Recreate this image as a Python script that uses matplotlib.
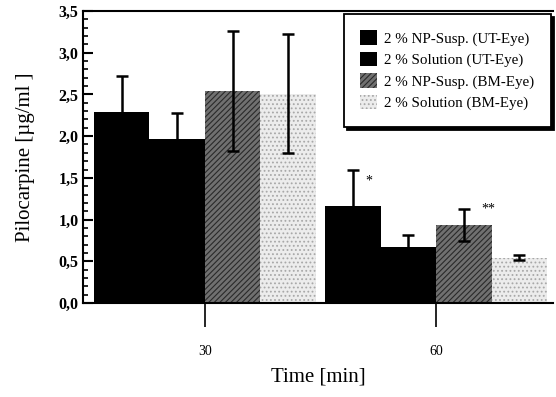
import matplotlib
matplotlib.use("Agg")
import matplotlib.pyplot as plt
import numpy as np

plt.rcParams['font.family'] = ['Liberation Serif', 'DejaVu Serif']
plt.rcParams['hatch.linewidth'] = 0.8

times = [30, 60]
series = ["2 % NP-Susp. (UT-Eye)", "2 % Solution (UT-Eye)",
          "2 % NP-Susp. (BM-Eye)", "2 % Solution (BM-Eye)"]
np_ut = [2.29, 1.16]
sol_ut = [1.97, 0.67]
np_bm = [2.54, 0.935]
sol_bm = [2.51, 0.545]
np_ut_err = [0.43, 0.435]
sol_ut_err = [0.31, 0.14]
np_bm_err = [0.72, 0.19]
sol_bm_err = [0.71, 0.035]
yticks = [0.0, 0.5, 1.0, 1.5, 2.0, 2.5, 3.0, 3.5]
ytick_labels = ["0,0", "0,5", "1,0", "1,5", "2,0", "2,5", "3,0", "3,5"]

values = [np_ut, sol_ut, np_bm, sol_bm]
errors = [np_ut_err, sol_ut_err, np_bm_err, sol_bm_err]
faces = ['black', 'black', '#707070', '#ececec']
hatch_cols = ['black', 'black', '#2a2a2a', '#a8a8a8']
hatches = [None, None, '//////', '....']

fig = plt.figure(figsize=(5.56, 3.97), dpi=100)
ax = fig.add_axes([0.149, 0.2368, 0.846, 0.7355])

w = 7.2
x = np.array(times, dtype=float)
offsets = [-1.5 * w, -0.5 * w, 0.5 * w, 1.5 * w]
for i in range(4):
    ax.bar(x + offsets[i], values[i], width=w, color=faces[i],
           edgecolor=hatch_cols[i], linewidth=0, hatch=hatches[i],
           label=series[i], zorder=2)
for i in range(4):
    ax.errorbar(x + offsets[i], values[i], yerr=errors[i], fmt='none',
                ecolor='black', elinewidth=1.8, capsize=4, capthick=1.8, zorder=3)

# significance marks
ax.text(x[1] + offsets[0] + 0.28 * w, 1.46, "*", fontsize=10, ha='center', va='center')
ax.text(x[1] + offsets[2] + 0.45 * w, 1.13, "**", fontsize=10, ha='center', va='center')

ax.set_xlim(14.16, 75.2)
ax.set_ylim(0, 3.5)
ax.set_xticks(times)
ax.set_xticklabels([str(t) for t in times], fontsize=10)
ax.set_yticks(yticks)
ax.set_yticklabels(ytick_labels, fontsize=11.5, fontweight='bold')
ax.set_yticks(np.arange(0, 3.51, 0.1), minor=True)
ax.tick_params(axis='y', which='major', direction='in', length=7, width=1.5, pad=3)
ax.tick_params(axis='y', which='minor', direction='in', length=3.5, width=1.2)
ax.tick_params(axis='x', which='major', direction='out', length=17, width=1.2, pad=13)
ax.spines['right'].set_visible(False)
for s in ['left', 'top', 'bottom']:
    ax.spines[s].set_linewidth(1.5)

ax.set_ylabel("Pilocarpine [µg/ml ]", fontsize=15, labelpad=17)
ax.set_xlabel("Time [min]", fontsize=15, labelpad=7)

leg = ax.legend(loc='upper right', bbox_to_anchor=(0.995, 0.99), borderaxespad=0,
                fontsize=10.8, frameon=True, fancybox=False,
                shadow={'color': 'black', 'alpha': 1, 'ox': 2, 'oy': -2},
                handlelength=1.1, handleheight=1.1, handletextpad=0.5,
                labelspacing=0.4, borderpad=1.1)
leg.get_frame().set_edgecolor('black')
leg.get_frame().set_linewidth(1.3)

fig.savefig("out.png", dpi=100)
